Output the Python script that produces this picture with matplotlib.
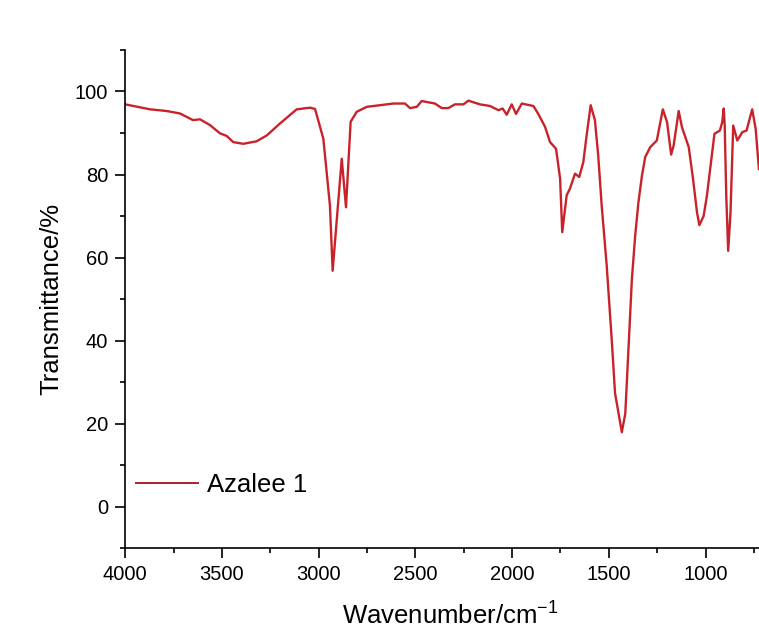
import matplotlib
matplotlib.use("Agg")
import matplotlib.pyplot as plt
from matplotlib.ticker import MultipleLocator

plt.rcParams['font.family'] = ['Liberation Sans', 'DejaVu Sans']

wavenumber = [4000, 3872, 3786, 3717, 3650, 3614, 3562, 3510, 3476, 3442, 3390, 3321,
              3269, 3200, 3114, 3045, 3019, 2976, 2942, 2928, 2881, 2859, 2835, 2804,
              2752, 2614, 2554, 2528, 2493, 2468, 2399, 2364, 2330, 2296, 2252, 2226,
              2200, 2166, 2114, 2071, 2049, 2028, 2002, 1980, 1950, 1890, 1865, 1830,
              1804, 1773, 1752, 1741, 1718, 1701, 1675, 1653, 1632, 1615, 1594, 1572,
              1555, 1537, 1511, 1485, 1468, 1450, 1433, 1415, 1398, 1381, 1364, 1347,
              1329, 1312, 1286, 1252, 1221, 1199, 1178, 1165, 1139, 1122, 1087, 1065,
              1044, 1032, 1010, 993, 972, 954, 926, 914, 906, 901, 893, 883, 871, 857,
              836, 810, 788, 759, 741, 724]
transmittance = [96.9, 95.7, 95.3, 94.7, 93.1, 93.3, 91.9, 89.9, 89.3, 87.8, 87.4, 88.0,
                 89.4, 92.3, 95.7, 96.1, 95.8, 88.6, 72.5, 56.8, 83.8, 72.1, 92.7, 95.1,
                 96.3, 97.1, 97.1, 96.0, 96.3, 97.7, 97.1, 96.0, 96.0, 96.9, 96.9, 97.8,
                 97.4, 96.9, 96.5, 95.5, 95.9, 94.4, 96.9, 94.6, 97.1, 96.5, 94.6, 91.5,
                 87.8, 86.2, 79.0, 66.1, 75.0, 76.6, 80.2, 79.4, 83.0, 89.4, 96.7, 93.1,
                 84.6, 72.5, 58.0, 40.1, 27.3, 22.5, 17.9, 22.4, 38.5, 54.7, 65.2, 73.3,
                 79.7, 84.2, 86.6, 88.2, 95.7, 92.6, 84.8, 87.0, 95.3, 91.4, 86.6, 79.0,
                 70.8, 67.8, 70.0, 74.9, 82.9, 89.8, 90.6, 92.6, 95.9, 91.8, 74.9, 61.6,
                 70.8, 91.8, 88.2, 90.2, 90.6, 95.7, 91.0, 81.3]
series_name = "Azalee 1"

W, H = 759, 631
fig = plt.figure(figsize=(W / 100, H / 100), dpi=100)
left_px, right_px, top_px, bottom_px = 125.3, 775, 50, 548
ax = fig.add_axes([left_px / W, 1 - bottom_px / H, (right_px - left_px) / W, (bottom_px - top_px) / H])

ax.plot(wavenumber, transmittance, color='#c8232b', lw=1.7, label=series_name)

ax.set_xlim(4000, 641)
ax.set_ylim(-10, 110)
ax.xaxis.set_major_locator(MultipleLocator(500))
ax.xaxis.set_minor_locator(MultipleLocator(250))
ax.yaxis.set_major_locator(MultipleLocator(20))
ax.yaxis.set_minor_locator(MultipleLocator(10))
ax.tick_params(which='major', direction='out', length=7.2, width=1.2, labelsize=14.5,
               colors='black', pad=5)
ax.tick_params(which='minor', direction='out', length=3.6, width=1.2)
for s in ['top', 'right']:
    ax.spines[s].set_visible(False)
for s in ['left', 'bottom']:
    ax.spines[s].set_linewidth(1.2)

ax.set_xlabel('Wavenumber/cm$^{\\mathregular{-1}}$', fontsize=18.5, labelpad=12)
ax.set_ylabel('Transmittance/%', fontsize=18.5, labelpad=8)

leg = ax.legend(loc='center left', bbox_to_anchor=(0.017, (5.3 + 10) / 120), frameon=False,
                fontsize=18.5, handlelength=2.41, handletextpad=0.35,
                borderpad=0, borderaxespad=0)
for l in leg.get_lines():
    l.set_color('#a8242a')
    l.set_linewidth(1.4)

fig.savefig('out.png', dpi=100)
